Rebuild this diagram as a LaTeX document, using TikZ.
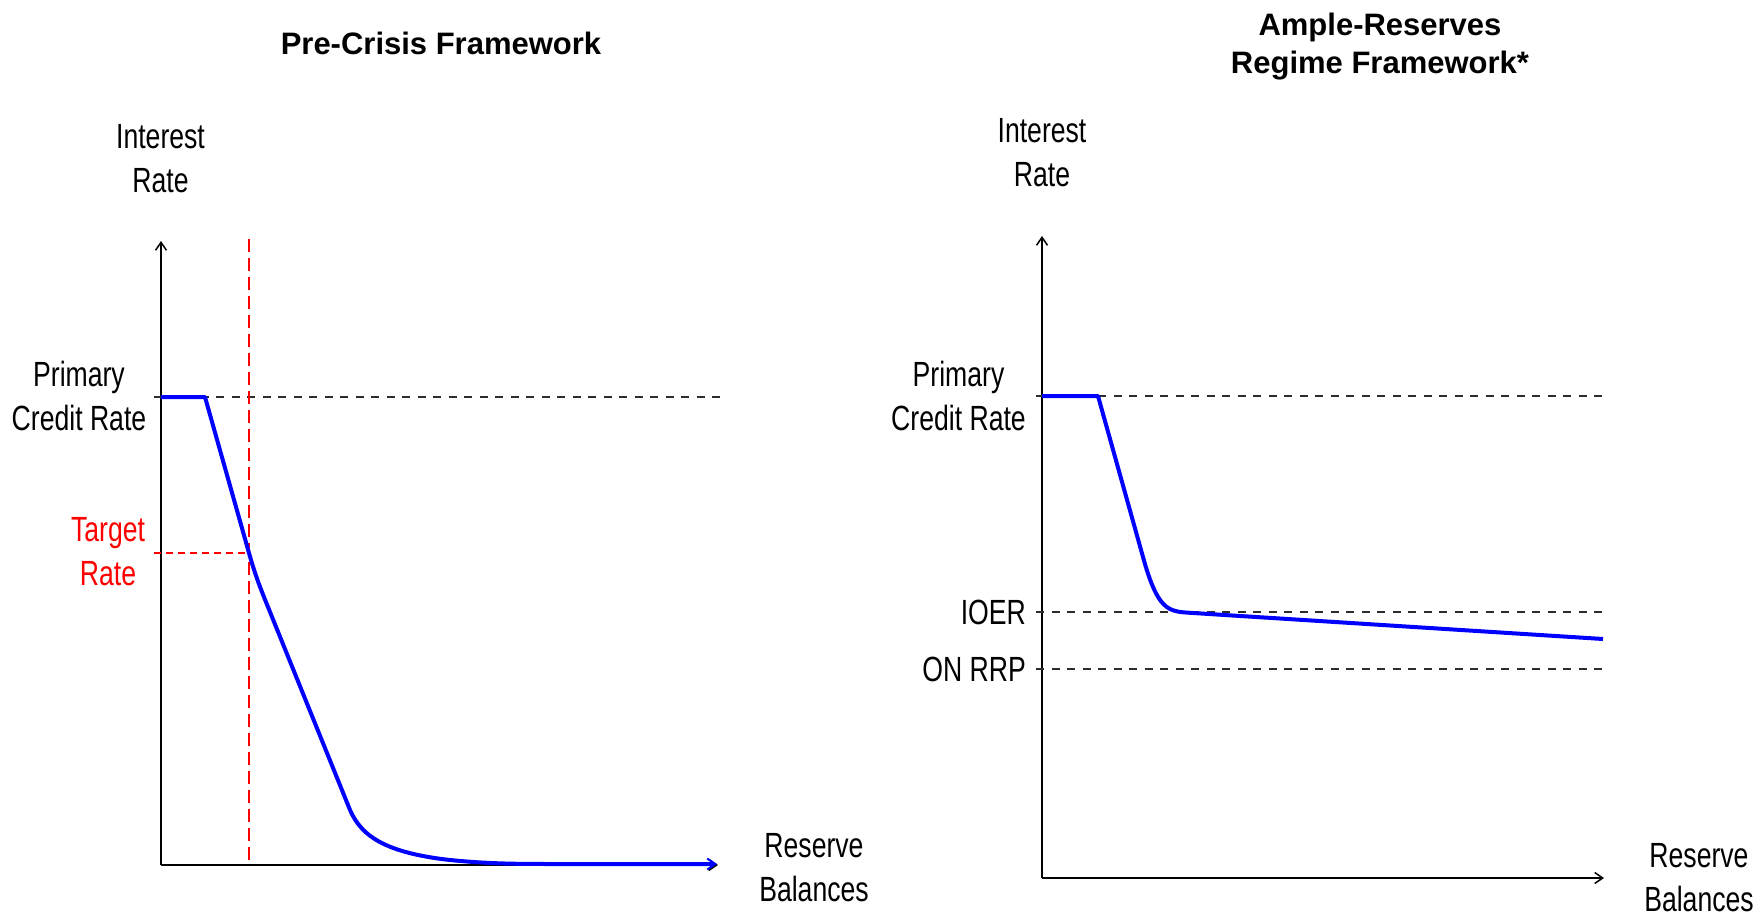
\documentclass[tikz,border=0pt]{standalone}
\usepackage{fontspec}
\setmainfont{Liberation Sans}
\newfontfamily\narrowfont[FakeStretch=0.76]{Liberation Sans}
\usetikzlibrary{arrows.meta}
\definecolor{curveblue}{RGB}{0,0,255}
\definecolor{dashgray}{RGB}{45,45,45}
\definecolor{tgtred}{RGB}{255,0,0}
\begin{document}
\begin{tikzpicture}[x=1pt,y=-1pt,
  titlelbl/.style={font=\fontsize{31}{38}\selectfont\bfseries, align=center, inner sep=0pt, anchor=base},
  axlbl/.style={font=\narrowfont\fontsize{35}{44}\selectfont, align=center, inner sep=0pt, anchor=base},
  axisline/.style={black, line width=1.6pt, -{Straight Barb[length=8pt,width=11pt,line width=1.5pt]}},
  refline/.style={dashgray, line width=1.6pt, dash pattern=on 8pt off 7.5pt},
  tgtline/.style={tgtred, line width=1.3pt, dash pattern=on 12.5pt off 6.5pt},
  tgthline/.style={tgtred, line width=1.3pt, dash pattern=on 7pt off 5pt},
  curve/.style={curveblue, line width=4pt, line join=round}]
\useasboundingbox (0,0) rectangle (1762,918);

% ---------------- Left panel ----------------
% (for multi-line nodes, anchor=base is the baseline of the last line)
\node[titlelbl] (ltitle) at (441,54) {Pre-Crisis Framework};
\node[axlbl] (lir) at (160.5,192.5) {Interest\\Rate};
\node[axlbl] (lpcr) at (79,430) {Primary\\Credit Rate};
\node[axlbl, text=tgtred] (ltr) at (108,585) {Target\\Rate};
\node[axlbl] (lrb) at (814,901.5) {Reserve\\Balances};

\coordinate (LO) at (161,865);
\coordinate (LYtop) at (161,241);
\coordinate (LXend) at (718,865);
\coordinate (LPs) at (154,397);
\coordinate (LPe) at (720,397);
\coordinate (LTs) at (154,553);
\coordinate (LTx) at (249,553);
\coordinate (LVtop) at (249,239);
\coordinate (LVbot) at (249,865);

\draw[axisline] (LO) -- (LYtop);
\draw[axisline] (LO) -- (LXend);
\draw[refline] (LPs) -- (LPe);
\draw[tgtline] (LVtop) -- (LVbot);
\draw[tgthline] (LTs) -- (LTx);
\draw[curve, -{Straight Barb[length=8pt,width=11pt,line width=2pt]}]
  (161,397) -- (205,397) -- (LTx)
  .. controls (256,578) and (262,592) .. (268,607)
  -- (348,805)
  .. controls (358,832) and (378,852) .. (450,860)
  .. controls (490,864) and (520,864) .. (560,864)
  -- (717,864);

% ---------------- Right panel ----------------
\node[titlelbl] (rtitle) at (1380,73) {Ample-Reserves\\Regime Framework*};
\node[axlbl] (rir) at (1042,186) {Interest\\Rate};
\node[axlbl] (rpcr) at (958.5,430) {Primary\\Credit Rate};
\node[axlbl, anchor=base east] (rioer) at (1026,624) {IOER};
\node[axlbl, anchor=base east] (ronrrp) at (1026,681) {ON RRP};
\node[axlbl] (rrb) at (1699,911) {Reserve\\Balances};

\coordinate (RO) at (1042,878);
\coordinate (RYtop) at (1042,236);
\coordinate (RXend) at (1604,878);
\coordinate (RPs) at (1036,396);
\coordinate (RPe) at (1604,396);
\coordinate (RIs) at (1036,612);
\coordinate (RIe) at (1604,612);
\coordinate (RNs) at (1036,669);
\coordinate (RNe) at (1604,669);

\draw[axisline] (RO) -- (RYtop);
\draw[axisline] (RO) -- (RXend);
\draw[refline] (RPs) -- (RPe);
\draw[refline] (RIs) -- (RIe);
\draw[refline] (RNs) -- (RNe);
\draw[curve]
  (1042,396) -- (1098,396) -- (1143,557)
  .. controls (1152,590) and (1160,604) .. (1170,609)
  .. controls (1175,611.5) and (1180,612.2) .. (1190,612.8)
  -- (1603,639);
\end{tikzpicture}
\end{document}
